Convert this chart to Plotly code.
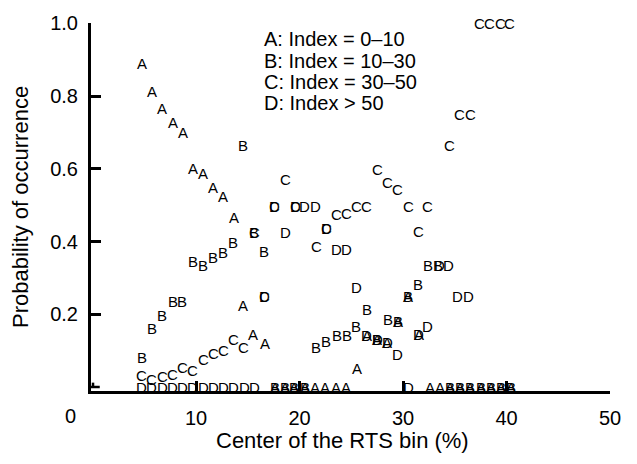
import plotly.graph_objects as go

# ---- data ----
A_x = [4.75, 5.78, 6.74, 7.75, 8.71, 9.68, 10.71, 11.67, 12.64, 13.67, 14.57, 15.54, 16.67,
       17.6, 18.6, 19.5, 20.5, 21.5, 22.5, 23.5, 24.5, 25.53, 26.5, 27.5, 28.5, 29.55, 30.5,
       31.5, 32.6, 33.6, 34.5, 35.5, 36.5, 37.5, 38.5, 39.5, 40.4]
A_y = [0.889, 0.813, 0.765, 0.728, 0.699, 0.602, 0.586, 0.548, 0.523, 0.466, 0.223, 0.145, 0.121,
       0, 0, 0, 0, 0, 0, 0, 0, 0.052, 0.143, 0.131, 0.123, 0.18, 0.25,
       0.145, 0, 0, 0, 0, 0, 0, 0, 0, 0]

B_x = [4.75, 5.78, 6.74, 7.75, 8.62, 9.68, 10.64, 11.67, 12.64, 13.6, 14.57, 15.63, 16.57,
       17.6, 18.6, 19.5, 20.5, 21.6, 22.56, 23.6, 24.56, 25.5, 26.5, 27.5, 28.58, 29.55, 30.5,
       31.48, 32.4, 33.4, 34.5, 35.5, 36.5, 37.5, 38.5, 39.5, 40.4]
B_y = [0.080, 0.161, 0.198, 0.234, 0.236, 0.346, 0.335, 0.355, 0.369, 0.398, 0.665, 0.425, 0.373,
       0, 0, 0, 0, 0.108, 0.125, 0.143, 0.143, 0.167, 0.212, 0.131, 0.185, 0.18, 0.25,
       0.283, 0.333, 0.333, 0, 0, 0, 0, 0, 0, 0]

C_x = [4.75, 5.74, 6.74, 7.72, 8.71, 9.68, 10.7, 11.67, 12.64, 13.6, 14.57, 15.63, 16.57,
       17.6, 18.6, 19.6, 21.6, 22.56, 23.6, 24.5, 25.5, 26.5, 27.5, 28.5, 29.5, 30.5, 31.5,
       32.4, 34.5, 35.5, 36.5, 37.4, 38.4, 39.4, 40.3]
C_y = [0.032, 0.021, 0.030, 0.035, 0.055, 0.046, 0.075, 0.091, 0.101, 0.131, 0.110, 0.425, 0.25,
       0.497, 0.571, 0.497, 0.387, 0.436, 0.475, 0.478, 0.496, 0.496, 0.598, 0.562, 0.544, 0.497, 0.427,
       0.497, 0.665, 0.75, 0.75, 1.0, 1.0, 1.0, 1.0]

D_x = [4.75, 5.74, 6.73, 7.72, 8.71, 9.7, 10.69, 11.68, 12.67, 13.66, 14.65, 15.64,
       16.57, 17.63, 18.6, 19.6, 20.5, 21.5, 22.56, 23.6, 24.5, 25.53, 26.5, 27.5, 28.5,
       29.5, 30.5, 31.5, 32.4, 33.5, 34.4, 35.3, 36.3]
D_y = [0, 0, 0, 0, 0, 0, 0, 0, 0, 0, 0, 0,
       0.25, 0.497, 0.425, 0.497, 0.497, 0.497, 0.436, 0.378, 0.378, 0.275, 0.143, 0.131, 0.123,
       0.089, 0, 0.145, 0.167, 0.333, 0.333, 0.248, 0.248]

series = [("A", A_x, A_y), ("B", B_x, B_y), ("C", C_x, C_y), ("D", D_x, D_y)]
legend_lines = ["A: Index = 0\u201310", "B: Index = 10\u201330",
                "C: Index = 30\u201350", "D: Index > 50"]
x_ticks = [10, 20, 30, 40, 50]
y_ticks = [0.2, 0.4, 0.6, 0.8, 1.0]

FONT = "Arial, Liberation Sans, Helvetica, sans-serif"

W, H = 637, 464
L, R, T, B = 91, 27, 15, 73
pw, ph = W - L - R, H - T - B

def px(xp):
    return (xp - L) / pw

def py(yp):
    return (H - B - yp) / ph

fig = go.Figure()
# empty trace so the cartesian axes are created
fig.add_trace(go.Scatter(x=[None], y=[None], mode="markers", showlegend=False, hoverinfo="skip"))

annotations = []
# letter marks placed on the data axes (centred on each value)
for name, xs, ys in series:
    for xv, yv in zip(xs, ys):
        annotations.append(dict(text=name, x=xv, y=yv, xref="x", yref="y",
                                xanchor="center", yanchor="middle",
                                showarrow=False,
                                font=dict(family=FONT, size=15, color="black")))

for i, line in enumerate(legend_lines):
    annotations.append(dict(text=line, xref="paper", yref="paper",
                            x=px(261.5), y=py(31.7 + 21.67 * i), xanchor="left", yanchor="middle",
                            showarrow=False, font=dict(family=FONT, size=20, color="black")))
annotations.append(dict(text="0", xref="paper", yref="paper", x=px(70), y=py(417),
                        xanchor="center", yanchor="middle", showarrow=False,
                        font=dict(family=FONT, size=20, color="black")))
annotations.append(dict(text="Center of the RTS bin (%)", xref="paper", yref="paper",
                        x=px(342), y=py(442), xanchor="center", yanchor="middle",
                        showarrow=False, font=dict(family=FONT, size=22, color="black")))
annotations.append(dict(text="Probability of occurrence", xref="paper", yref="paper",
                        x=px(20), y=py(203), xanchor="center", yanchor="middle", textangle=-90,
                        showarrow=False, font=dict(family=FONT, size=22, color="black")))

fig.update_layout(
    width=W, height=H, margin=dict(l=L, r=R, t=T, b=B, pad=0),
    paper_bgcolor="white", plot_bgcolor="white",
    annotations=annotations,
    xaxis=dict(range=[-0.145, 50.0], showgrid=False, zeroline=False,
               showline=True, linewidth=3, linecolor="black",
               tickmode="array", tickvals=x_ticks, ticktext=[str(v) for v in x_ticks],
               ticks="inside", ticklen=10, tickwidth=2.5, tickcolor="black",
               ticklabelstandoff=7,
               tickfont=dict(family=FONT, size=20, color="black")),
    yaxis=dict(range=[-0.011, 1.001], showgrid=False, zeroline=False,
               showline=True, linewidth=3, linecolor="black",
               tickmode="array", tickvals=y_ticks, ticktext=["%.1f" % v for v in y_ticks],
               ticks="inside", ticklen=10, tickwidth=2.5, tickcolor="black",
               ticklabelstandoff=6,
               tickfont=dict(family=FONT, size=20, color="black")),
)

# small cross at the origin
fig.add_shape(type="line", xref="x", yref="y", x0=-0.2, x1=0.7, y0=0, y1=0,
              line=dict(color="black", width=2.5))
fig.add_shape(type="line", xref="x", yref="y", x0=0.05, x1=0.05, y0=0, y1=0.012,
              line=dict(color="black", width=2.5))

fig.write_html("out.html")
